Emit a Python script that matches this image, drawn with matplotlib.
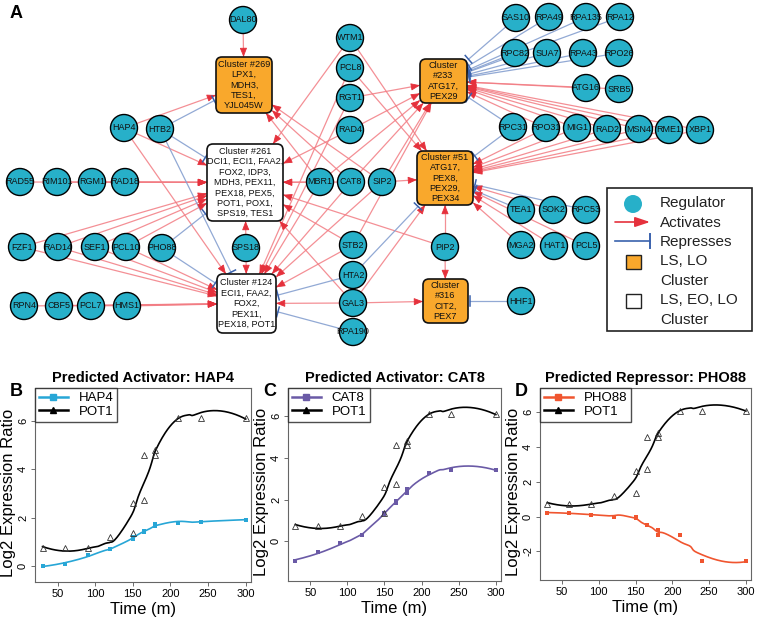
import matplotlib
matplotlib.use("Agg")
import matplotlib.pyplot as plt
from matplotlib.patches import Circle, FancyBboxPatch, Rectangle
import numpy as np

plt.rcParams["font.family"] = ["Liberation Sans", "DejaVu Sans"]

# === DATA: time course (panels B-D) ===
TIMES = [30, 60, 90, 120, 150, 150, 165, 165, 180, 180, 210, 240, 300]
POT1 = [0.75, 0.75, 0.75, 1.2, 2.6, 1.35, 4.6, 2.75, 4.6, 4.8, 6.1, 6.1, 6.1]
HAP4 = [0.0, 0.08, 0.45, 0.7, 1.1, 1.2, 1.4, 1.45, 1.65, 1.72, 1.78, 1.8, 1.92]
CAT8 = [-0.92, -0.5, -0.1, 0.32, 1.3, 1.35, 1.85, 1.95, 2.3, 2.5, 3.3, 3.42, 3.42]
PHO88 = [0.23, 0.22, 0.1, -0.03, -0.05, -0.03, -0.48, -0.5, -0.75, -1.05, -1.05, -2.55, -2.55]

# === DATA: network (panel A) ===
REGULATORS = {
    "DAL80": (243, 20), "WTM1": (350, 38), "PCL8": (350, 68), "RGT1": (350, 98), "RAD4": (350, 130),
    "HAP4": (124, 128), "HTB2": (160, 129),
    "RAD55": (20, 182), "RIM101": (57, 182), "RGM1": (92, 182), "RAD18": (125, 182),
    "MBR1": (320, 182), "CAT8": (351, 182), "SIP2": (382, 182),
    "FZF1": (22, 247), "RAD14": (58, 247), "SEF1": (95, 247), "PCL10": (126, 247), "PHO88": (162, 248),
    "SPS18": (246, 248), "STB2": (353, 245), "HTA2": (353, 275), "GAL3": (353, 303), "RPA190": (353, 332),
    "RPN4": (24, 306), "CBF5": (59, 306), "PCL7": (91, 306), "HMS1": (127, 306),
    "SAS10": (516, 18), "RPA49": (549, 17), "RPA135": (586, 17), "RPA12": (620, 17),
    "RPC82": (515, 53), "SUA7": (547, 53), "RPA43": (583, 53), "RPO26": (619, 53),
    "ATG16": (586, 88), "SRB5": (619, 89),
    "RPC31": (513, 127), "RPO31": (546, 128), "MIG1": (577, 128), "RAD2": (607, 129),
    "MSN4": (639, 129), "RME1": (669, 130), "XBP1": (700, 130),
    "TEA1": (521, 210), "SOK2": (553, 210), "RPC53": (586, 210),
    "MGA2": (521, 245), "HAT1": (554, 246), "PCL5": (586, 246),
    "PIP2": (445, 247), "HHF1": (521, 301),
}
# (left, top, right, bottom), text, late-only cluster
CLUSTERS = {
    "C269": ((216, 57, 272, 113), "Cluster #269\nLPX1,\nMDH3,\nTES1,\nYJL045W", True),
    "C261": ((207, 144, 283, 221), "Cluster #261\nDCI1, ECI1, FAA2,\nFOX2, IDP3,\nMDH3, PEX11,\nPEX18, PEX5,\nPOT1, POX1,\nSPS19, TES1", False),
    "C124": ((217, 274, 276, 333), "Cluster #124\nECI1, FAA2,\nFOX2,\nPEX11,\nPEX18, POT1", False),
    "C233": ((420, 59, 467, 103), "Cluster\n#233\nATG17,\nPEX29", True),
    "C51": ((417, 151, 473, 205), "Cluster #51\nATG17,\nPEX8,\nPEX29,\nPEX34", True),
    "C316": ((423, 279, 468, 323), "Cluster\n#316\nCIT2,\nPEX7", True),
}
ACTIVATES = [
    ("DAL80", "C269"), ("HAP4", "C269"), ("HAP4", "C261"), ("HAP4", "C124"),
    ("RAD55", "C261"), ("RIM101", "C261"), ("RGM1", "C261"), ("RAD18", "C261"),
    ("FZF1", "C261"), ("RAD14", "C261"), ("SEF1", "C261"), ("PCL10", "C261"),
    ("FZF1", "C124"), ("RAD14", "C124"), ("SEF1", "C124"), ("PCL10", "C124"),
    ("RPN4", "C124"), ("CBF5", "C124"), ("PCL7", "C124"), ("HMS1", "C124"),
    ("SPS18", "C261"), ("SPS18", "C124"),
    ("WTM1", "C261"), ("WTM1", "C51"), ("PCL8", "C124"), ("PCL8", "C51"),
    ("RGT1", "C233"), ("RGT1", "C124"), ("RAD4", "C233"), ("RAD4", "C261"),
    ("MBR1", "C261"), ("MBR1", "C269"), ("MBR1", "C233"), ("MBR1", "C124"),
    ("CAT8", "C269"), ("CAT8", "C233"), ("CAT8", "C124"), ("CAT8", "C261"),
    ("SIP2", "C51"), ("SIP2", "C269"), ("SIP2", "C233"), ("SIP2", "C124"),
    ("STB2", "C261"), ("STB2", "C124"), ("STB2", "C233"),
    ("GAL3", "C124"), ("GAL3", "C316"), ("GAL3", "C261"), ("GAL3", "C51"),
    ("PIP2", "C51"), ("PIP2", "C316"), ("PIP2", "C261"),
    ("ATG16", "C233"), ("SRB5", "C233"),
    ("RPO31", "C233"), ("MIG1", "C233"), ("RAD2", "C233"), ("MSN4", "C233"), ("RME1", "C233"), ("XBP1", "C233"),
    ("RPO31", "C51"), ("MIG1", "C51"), ("RAD2", "C51"), ("MSN4", "C51"), ("RME1", "C51"), ("XBP1", "C51"),
    ("SOK2", "C51"), ("HAT1", "C51"), ("PCL5", "C51"), ("MGA2", "C51"),
]
REPRESSES = [
    ("HTB2", "C269"), ("HTB2", "C261"), ("HTB2", "C124"),
    ("PHO88", "C261"), ("PHO88", "C124"),
    ("HTA2", "C124"), ("HTA2", "C51"), ("RPA190", "C124"),
    ("SAS10", "C233"), ("RPA49", "C233"), ("RPA135", "C233"), ("RPA12", "C233"),
    ("RPC82", "C233"), ("SUA7", "C233"), ("RPA43", "C233"), ("RPO26", "C233"),
    ("RPC31", "C233"), ("RPC31", "C51"), ("TEA1", "C51"), ("RPC53", "C51"),
    ("HHF1", "C316"),
]

TEAL = "#27b0c9"
ORANGE = "#f9a82c"
RED_LINE = "#f27c83"
RED_HEAD = "#e5313c"
BLUE_LINE = "#86a0d0"
BLUE_BAR = "#3a62ad"


# === Helpers ===
def box_hit(src, box):
    """Punt waar de lijn bron -> middelpunt van de box de rand raakt."""
    x0, y0, x1, y1 = box
    cx, cy = (x0 + x1) / 2, (y0 + y1) / 2
    dx, dy = src[0] - cx, src[1] - cy
    tx = (x1 - x0) / 2 / abs(dx) if dx else np.inf
    ty = (y1 - y0) / 2 / abs(dy) if dy else np.inf
    t = min(tx, ty)
    return cx + dx * t, cy + dy * t


def draw_edge(ax, src, box, kind):
    tx, ty = box_hit(src, box)
    ux, uy = tx - src[0], ty - src[1]
    n = np.hypot(ux, uy)
    ux, uy = ux / n, uy / n
    if kind == "act":
        ax.plot([src[0], tx], [src[1], ty], color=RED_LINE, lw=0.9, alpha=0.85, zorder=1)
        ax.annotate("", xy=(tx, ty), xytext=(tx - ux * 8, ty - uy * 8),
                    arrowprops=dict(arrowstyle="-|>,head_length=0.55,head_width=0.22", color=RED_HEAD,
                                    lw=0.6, shrinkA=0, shrinkB=0, mutation_scale=10), zorder=2)
    else:
        ex, ey = tx - ux * 2, ty - uy * 2
        ax.plot([src[0], ex], [src[1], ey], color=BLUE_LINE, lw=0.9, alpha=0.9, zorder=1)
        px, py = -uy * 5, ux * 5
        ax.plot([ex - px, ex + px], [ey - py, ey + py], color=BLUE_BAR, lw=1.1, zorder=2)


def loess(t, y, span=0.75):
    """Lokale kwadratische regressie (zoals R loess, degree=2) over een fijn raster."""
    t = np.asarray(t, float)
    y = np.asarray(y, float)
    q = int(np.floor(len(t) * span))
    grid = np.linspace(t.min(), t.max(), 271)
    fit = []
    for x0 in grid:
        d = np.abs(t - x0)
        dmax = np.sort(d)[q - 1] * 1.0001
        w = np.clip(1 - (d / dmax) ** 3, 0, None) ** 3
        c = np.polyfit(t - x0, y, 2, w=np.sqrt(w))
        fit.append(c[-1])
    return grid, np.array(fit)


# === FIGURE ===
fig = plt.figure(figsize=(7.6, 6.2), dpi=100)
net = fig.add_axes([0, 0, 1, 1], zorder=0)
net.set_xlim(0, 760)
net.set_ylim(620, 0)
net.axis("off")

for kind, edges in (("act", ACTIVATES), ("rep", REPRESSES)):
    for s, c in edges:
        draw_edge(net, REGULATORS[s], CLUSTERS[c][0], kind)

for name, (x, y) in REGULATORS.items():
    net.add_patch(Circle((x, y), 13.5, facecolor=TEAL, edgecolor="black", lw=1.0, zorder=4))
    net.text(x, y, name, ha="center", va="center", fontsize=6.5, color="#111111", zorder=5)

for key, (box, label, late) in CLUSTERS.items():
    x0, y0, x1, y1 = box
    net.add_patch(FancyBboxPatch((x0, y0), x1 - x0, y1 - y0, boxstyle="round,pad=0,rounding_size=6",
                                 facecolor=ORANGE if late else "white", edgecolor="#111111", lw=1.2, zorder=4))
    net.text((x0 + x1) / 2, (y0 + y1) / 2, label, ha="center", va="center", fontsize=6.6,
             linespacing=1.2, color="#111111", zorder=5)

# legenda netwerk
net.add_patch(Rectangle((607, 188), 145, 143, facecolor="white", edgecolor="#222222", lw=1.2, zorder=5))
net.add_patch(Circle((633, 204), 9, facecolor=TEAL, edgecolor="none", zorder=6))
net.annotate("", xy=(650, 222), xytext=(615, 222),
             arrowprops=dict(arrowstyle="-|>,head_length=0.9,head_width=0.3", color=RED_HEAD,
                             lw=1.2, shrinkA=0, shrinkB=0, mutation_scale=10), zorder=6)
net.plot([615, 650], [241, 241], color=BLUE_BAR, lw=1.2, zorder=6)
net.plot([650, 650], [234, 248], color=BLUE_BAR, lw=1.4, zorder=6)
net.add_patch(Rectangle((626, 255), 15, 14, facecolor=ORANGE, edgecolor="#222222", lw=1.0, zorder=6))
net.add_patch(Rectangle((626, 294), 15, 14, facecolor="white", edgecolor="#222222", lw=1.0, zorder=6))
for yy, txt in [(203, "Regulator"), (223, "Activates"), (242, "Represses"), (261, "LS, LO"),
                (281, "Cluster"), (300, "LS, EO, LO"), (320, "Cluster")]:
    net.text(660, yy, txt, ha="left", va="center", fontsize=11, color="#222222", zorder=6)

net.text(10, 14, "A", fontsize=13, fontweight="bold", ha="left", va="center")

# === Panels B-D ===
panels = [
    ("B", "Predicted Activator: HAP4", "HAP4", HAP4, "#27a6d6", (35, 388, 251, 582), (-0.66, 7.36), [0, 2, 4, 6]),
    ("C", "Predicted Activator: CAT8", "CAT8", CAT8, "#6a5aa6", (288, 388, 501, 581), (-1.9, 7.35), [0, 2, 4, 6]),
    ("D", "Predicted Repressor: PHO88", "PHO88", PHO88, "#f0552f", (540, 388, 751, 580), (-3.64, 7.4), [-2, 0, 2, 4, 6]),
]
gx, gpot = loess(TIMES, POT1)

for letter, title, name, vals, col, (l, t, r, b), ylim, yticks in panels:
    ax = fig.add_axes([l / 760, 1 - b / 620, (r - l) / 760, (b - t) / 620], zorder=3)
    gx2, gfit = loess(TIMES, vals)
    ax.plot(gx2, gfit, color=col, lw=1.2)
    ax.plot(TIMES, vals, "s", color=col, ms=2.8, mew=0)
    ax.plot(gx, gpot, color="black", lw=1.2)
    ax.plot(TIMES, POT1, "^", mfc="none", mec="#333333", ms=4, mew=0.6)
    # legenda-handles
    h1, = ax.plot([], [], "-s", color=col, lw=1.8, ms=4)
    h2, = ax.plot([], [], "-^", color="black", lw=1.8, ms=5)
    leg = ax.legend([h1, h2], [name, "POT1"], loc="upper left", bbox_to_anchor=(0, 1), borderaxespad=0,
                    fontsize=9.5, frameon=True, fancybox=False, handlelength=2.2, handletextpad=0.8,
                    labelspacing=0.1, borderpad=0.3)
    leg.get_frame().set_edgecolor("#222222")
    leg.get_frame().set_linewidth(1.0)

    ax.set_xlim(20, 307)
    ax.set_ylim(*ylim)
    ax.set_xticks([50, 100, 150, 200, 250, 300])
    ax.set_yticks(yticks)
    ax.set_yticklabels([str(v) for v in yticks], rotation=90, va="center")
    ax.tick_params(labelsize=8, length=3, width=0.6, color="#555555", pad=2)
    for sp in ax.spines.values():
        sp.set_color("#666666")
        sp.set_linewidth(0.8)
    ax.set_xlabel("Time (m)", fontsize=12, labelpad=2)
    ax.set_ylabel("Log2 Expression Ratio", fontsize=12, labelpad=1.5)
    ax.yaxis.label.set_y(0.46)
    ax.set_title(title, fontsize=10.5, fontweight="bold", pad=4)
    fig.text((l - 25) / 760, 1 - 392 / 620, letter, fontsize=13, fontweight="bold", ha="left", va="center")

fig.savefig("out.png", dpi=100)
